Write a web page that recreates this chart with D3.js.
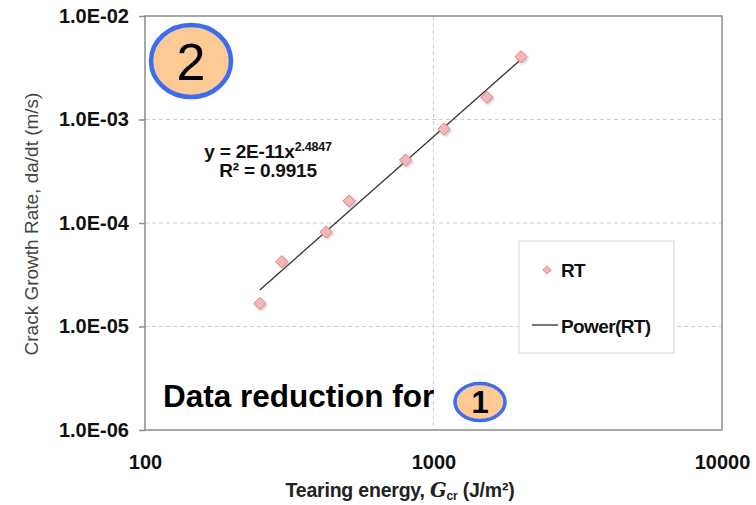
<!DOCTYPE html>
<meta charset="utf-8">
<html>
<head>
    <script src="https://d3js.org/d3.v7.min.js"></script>
    <style>
        body { margin: 0; background: #fff; }
        text { font-family: "Liberation Sans", Arial, sans-serif; }
    </style>
</head>
<body>
    <div id="chart"></div>
    <script>
        // data
        var energy = [250, 298, 424, 510, 800, 1087, 1530, 2010];
        var rate = [1.67e-5, 4.23e-5, 8.2e-5, 1.63e-4, 4.06e-4, 8.1e-4, 1.64e-3, 4.04e-3];
        var xTicks = [100, 1000, 10000];
        var yTicks = [1e-6, 1e-5, 1e-4, 1e-3, 1e-2];
        var seriesName = "RT";
        var fitName = "Power(RT)";

        var width = 756, height = 505;
        var plotL = 145, plotR = 722, plotT = 16, plotB = 430;

        var svg = d3.select("#chart").append("svg")
            .attr("width", width)
            .attr("height", height);

        var defs = svg.append("defs");
        var f = defs.append("filter").attr("id", "shadow")
            .attr("x", "-50%").attr("y", "-50%").attr("width", "200%").attr("height", "200%");
        f.append("feDropShadow").attr("dx", 1.5).attr("dy", 1.5)
            .attr("stdDeviation", 1).attr("flood-color", "#999").attr("flood-opacity", 0.5);

        var x = d3.scaleLog().domain([100, 10000]).range([plotL, plotR]);
        var y = d3.scaleLog().domain([1e-6, 1e-2]).range([plotB, plotT]);

        // grid
        svg.append("g").selectAll("line")
            .data(yTicks.slice(1, -1))
            .enter().append("line")
            .attr("x1", plotL).attr("x2", plotR)
            .attr("y1", function (d) { return y(d); })
            .attr("y2", function (d) { return y(d); })
            .attr("stroke", "#cfcfcf").attr("stroke-dasharray", "4,3");
        svg.append("g").selectAll("line")
            .data(xTicks.slice(1, -1))
            .enter().append("line")
            .attr("y1", plotT).attr("y2", plotB)
            .attr("x1", function (d) { return x(d); })
            .attr("x2", function (d) { return x(d); })
            .attr("stroke", "#cfcfcf").attr("stroke-dasharray", "4,3");

        // plot frame
        svg.append("rect")
            .attr("x", plotL).attr("y", plotT)
            .attr("width", plotR - plotL).attr("height", plotB - plotT)
            .attr("fill", "none").attr("stroke", "#8c8c8c").attr("stroke-width", 1.5);

        // axes
        function sci(d) {
            var e = Math.round(Math.log10(d));
            var s = Math.abs(e) < 10 ? "0" + Math.abs(e) : "" + Math.abs(e);
            return "1.0E" + (e < 0 ? "-" : "+") + s;
        }
        var yAxis = svg.append("g")
            .attr("transform", "translate(" + plotL + ",0)")
            .call(d3.axisLeft(y).tickValues(yTicks).tickFormat(sci).tickSize(6).tickPadding(10));
        var xAxis = svg.append("g")
            .attr("transform", "translate(0," + plotB + ")")
            .call(d3.axisBottom(x).tickValues(xTicks).tickFormat(d3.format("d")).tickSize(0).tickPadding(25));
        [xAxis, yAxis].forEach(function (a) {
            a.select(".domain").remove();
            a.selectAll("line").attr("stroke", "#8c8c8c").attr("stroke-width", 1.5);
            a.selectAll("text")
                .style("font-family", "Liberation Sans, Arial, sans-serif")
                .style("font-size", "20px")
                .style("font-weight", "bold")
                .style("letter-spacing", "0px")
                .attr("fill", "#111");
        });

        // power trendline fitted in log space
        var lx = energy.map(Math.log10), ly = rate.map(Math.log10);
        var mx = d3.mean(lx), my = d3.mean(ly);
        var b = d3.sum(lx, function (v, i) { return (v - mx) * (ly[i] - my); }) /
            d3.sum(lx, function (v) { return (v - mx) * (v - mx); });
        var a = my - b * mx;
        var fitX = d3.extent(energy);
        var line = d3.line()
            .x(function (d) { return x(d); })
            .y(function (d) { return y(Math.pow(10, a + b * Math.log10(d))); });
        svg.append("path")
            .datum(fitX)
            .attr("d", line)
            .attr("fill", "none")
            .attr("stroke", "#333")
            .attr("stroke-width", 1.3);

        // markers
        var diamond = d3.symbol().type(d3.symbolDiamond2).size(95);
        svg.append("g").selectAll("path")
            .data(energy)
            .enter().append("path")
            .attr("d", diamond)
            .attr("transform", function (d, i) { return "translate(" + x(d) + "," + y(rate[i]) + ")"; })
            .attr("fill", "#f7b6b6")
            .attr("stroke", "#e08585")
            .attr("stroke-width", 1)
            .attr("filter", "url(#shadow)");

        // equation
        var eq = svg.append("text")
            .attr("x", 268).attr("y", 158)
            .attr("text-anchor", "middle")
            .style("font-size", "19px").style("font-weight", "bold")
            .style("letter-spacing", "-0.2px").attr("fill", "#111");
        eq.append("tspan").text("y = 2E-11x");
        eq.append("tspan").attr("dy", -7).style("font-size", "12.5px").text("2.4847");
        svg.append("text")
            .attr("x", 268).attr("y", 177)
            .attr("text-anchor", "middle")
            .style("font-size", "19px").style("font-weight", "bold")
            .style("letter-spacing", "-0.2px").attr("fill", "#111")
            .text("R² = 0.9915");

        // legend
        svg.append("rect")
            .attr("x", 519).attr("y", 241).attr("width", 155).attr("height", 112)
            .attr("fill", "#fff").attr("stroke", "#dcdcdc").attr("stroke-width", 1.2);
        svg.append("path")
            .attr("d", d3.symbol().type(d3.symbolDiamond2).size(45))
            .attr("transform", "translate(547,270)")
            .attr("fill", "#f7b6b6").attr("stroke", "#e08585");
        svg.append("line")
            .attr("x1", 532).attr("x2", 558).attr("y1", 325).attr("y2", 325)
            .attr("stroke", "#777").attr("stroke-width", 2);
        svg.selectAll("text.leg")
            .data([[seriesName, 277], [fitName, 333]])
            .enter().append("text")
            .attr("class", "leg")
            .attr("x", 561).attr("y", function (d) { return d[1]; })
            .style("font-size", "19px").style("font-weight", "bold")
            .style("letter-spacing", "-0.6px").attr("fill", "#111")
            .text(function (d) { return d[0]; });

        // axis titles
        svg.append("text")
            .attr("transform", "translate(38,224) rotate(-90)")
            .attr("text-anchor", "middle")
            .style("font-size", "19px")
            .style("letter-spacing", "0px")
            .attr("fill", "#444")
            .text("Crack Growth Rate, da/dt (m/s)");
        var xt = svg.append("text")
            .attr("x", 400).attr("y", 497)
            .attr("text-anchor", "middle")
            .style("font-size", "19.5px").style("font-weight", "bold")
            .style("letter-spacing", "-0.2px")
            .attr("fill", "#222");
        xt.append("tspan").text("Tearing energy, ");
        xt.append("tspan").style("font-style", "italic").style("font-family", "DejaVu Serif, serif").text("G");
        xt.append("tspan").attr("dy", 3).style("font-size", "12px").text("cr");
        xt.append("tspan").attr("dy", -3).text(" (J/m²)");

        // callout badges
        svg.append("ellipse")
            .attr("cx", 191).attr("cy", 61).attr("rx", 40).attr("ry", 36)
            .attr("fill", "#fdca95").attr("stroke", "#3c6cf2").attr("stroke-width", 4.5);
        svg.append("text")
            .attr("x", 191).attr("y", 80)
            .attr("text-anchor", "middle")
            .style("font-size", "52px")
            .attr("fill", "#000")
            .text("2");

        svg.append("text")
            .attr("x", 163).attr("y", 407)
            .style("font-size", "31.5px").style("font-weight", "bold")
            .attr("fill", "#000")
            .text("Data reduction for");
        svg.append("ellipse")
            .attr("cx", 480).attr("cy", 402).attr("rx", 25).attr("ry", 18.5)
            .attr("fill", "#fdca95").attr("stroke", "#3c6cf2").attr("stroke-width", 3.5);
        svg.append("text")
            .attr("x", 480).attr("y", 413)
            .attr("text-anchor", "middle")
            .style("font-size", "31px").style("font-weight", "bold")
            .attr("fill", "#000")
            .text("1");
    </script>
</body>
</html>
